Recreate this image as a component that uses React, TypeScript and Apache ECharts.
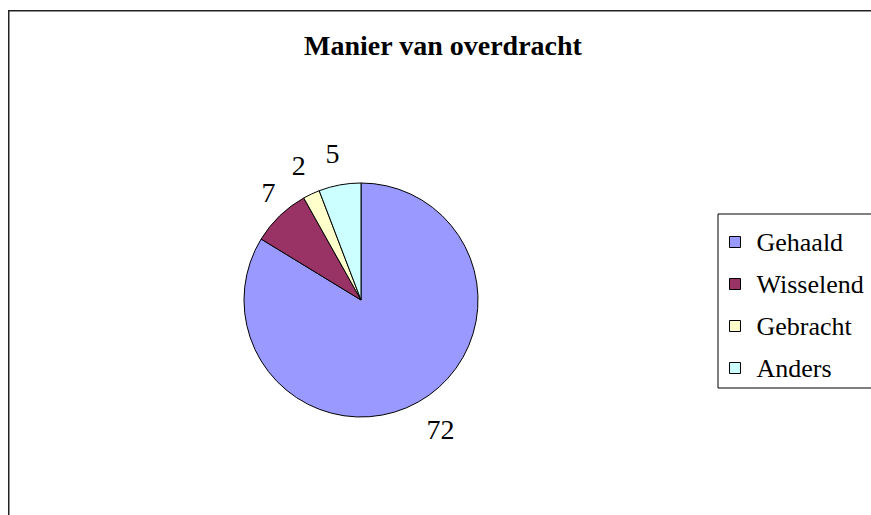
import React, { useEffect, useRef } from "react";
import * as echarts from "echarts";

const titleText = "Manier van overdracht";
const categories = ["Gehaald", "Wisselend", "Gebracht", "Anders"];
const values = [72, 7, 2, 5];
const colors = ["#9999FF", "#993366", "#FFFFCC", "#CCFFFF"];
// small per-label nudges (padding) to mimic the original label placement
const labelPaddings = [
  [9, 0, 0, 13],
  [0, 0, 17, 22],
  [0, 0, 0, 2],
  [10, 3, 0, 0],
];

const SERIF = "'Liberation Serif', 'Times New Roman', serif";

export default function App() {
  const ref = useRef<HTMLDivElement>(null);
  useEffect(() => {
    if (!ref.current) return;
    const chart = echarts.init(ref.current, undefined, { renderer: "svg" });
    const mainData = categories.map((name, i) => ({
      name,
      value: values[i],
      itemStyle: { color: colors[i] },
    }));
    const labelData = categories.map((name, i) => ({
      name,
      value: values[i],
      label: { padding: labelPaddings[i] },
    }));
    chart.setOption({
      animation: false,
      backgroundColor: "#ffffff",
      textStyle: { fontFamily: SERIF },
      title: {
        text: titleText,
        left: 299,
        top: 26,
        textStyle: {
          fontFamily: SERIF,
          fontWeight: "bold",
          fontSize: 28,
          color: "#000",
        },
      },
      legend: {
        orient: "vertical",
        left: 718,
        top: 214,
        data: categories,
        icon: "rect",
        itemWidth: 11,
        itemHeight: 11,
        itemGap: 16,
        padding: [15, 40, 7, 11],
        borderColor: "#000",
        borderWidth: 1,
        selectedMode: false,
        itemStyle: { borderColor: "#000", borderWidth: 1 },
        textStyle: {
          fontFamily: SERIF,
          fontSize: 26,
          color: "#000",
          padding: [0, 0, 0, 11],
        },
      },
      graphic: [
        {
          type: "rect",
          shape: { x: 8.75, y: 10.75, width: 1000, height: 1000 },
          style: { fill: "none", stroke: "#222", lineWidth: 1.5 },
          silent: true,
        },
      ],
      series: [
        {
          type: "pie",
          center: [361, 300],
          radius: 117,
          startAngle: 90,
          clockwise: true,
          silent: true,
          label: { show: false },
          labelLine: { show: false },
          itemStyle: { borderColor: "#000", borderWidth: 1 },
          data: mainData,
        },
        {
          type: "pie",
          center: [361, 300],
          radius: [140, 152],
          startAngle: 90,
          clockwise: true,
          silent: true,
          avoidLabelOverlap: false,
          itemStyle: { color: "rgba(0,0,0,0)", borderWidth: 0 },
          label: {
            show: true,
            position: "inside",
            formatter: "{c}",
            fontFamily: SERIF,
            fontSize: 28,
            color: "#000",
          },
          labelLine: { show: false },
          data: labelData,
        },
      ],
    });
    return () => chart.dispose();
  }, []);
  return (
    <div
      ref={ref}
      style={{ position: "fixed", left: 0, top: 0, width: 871, height: 515 }}
    />
  );
}
